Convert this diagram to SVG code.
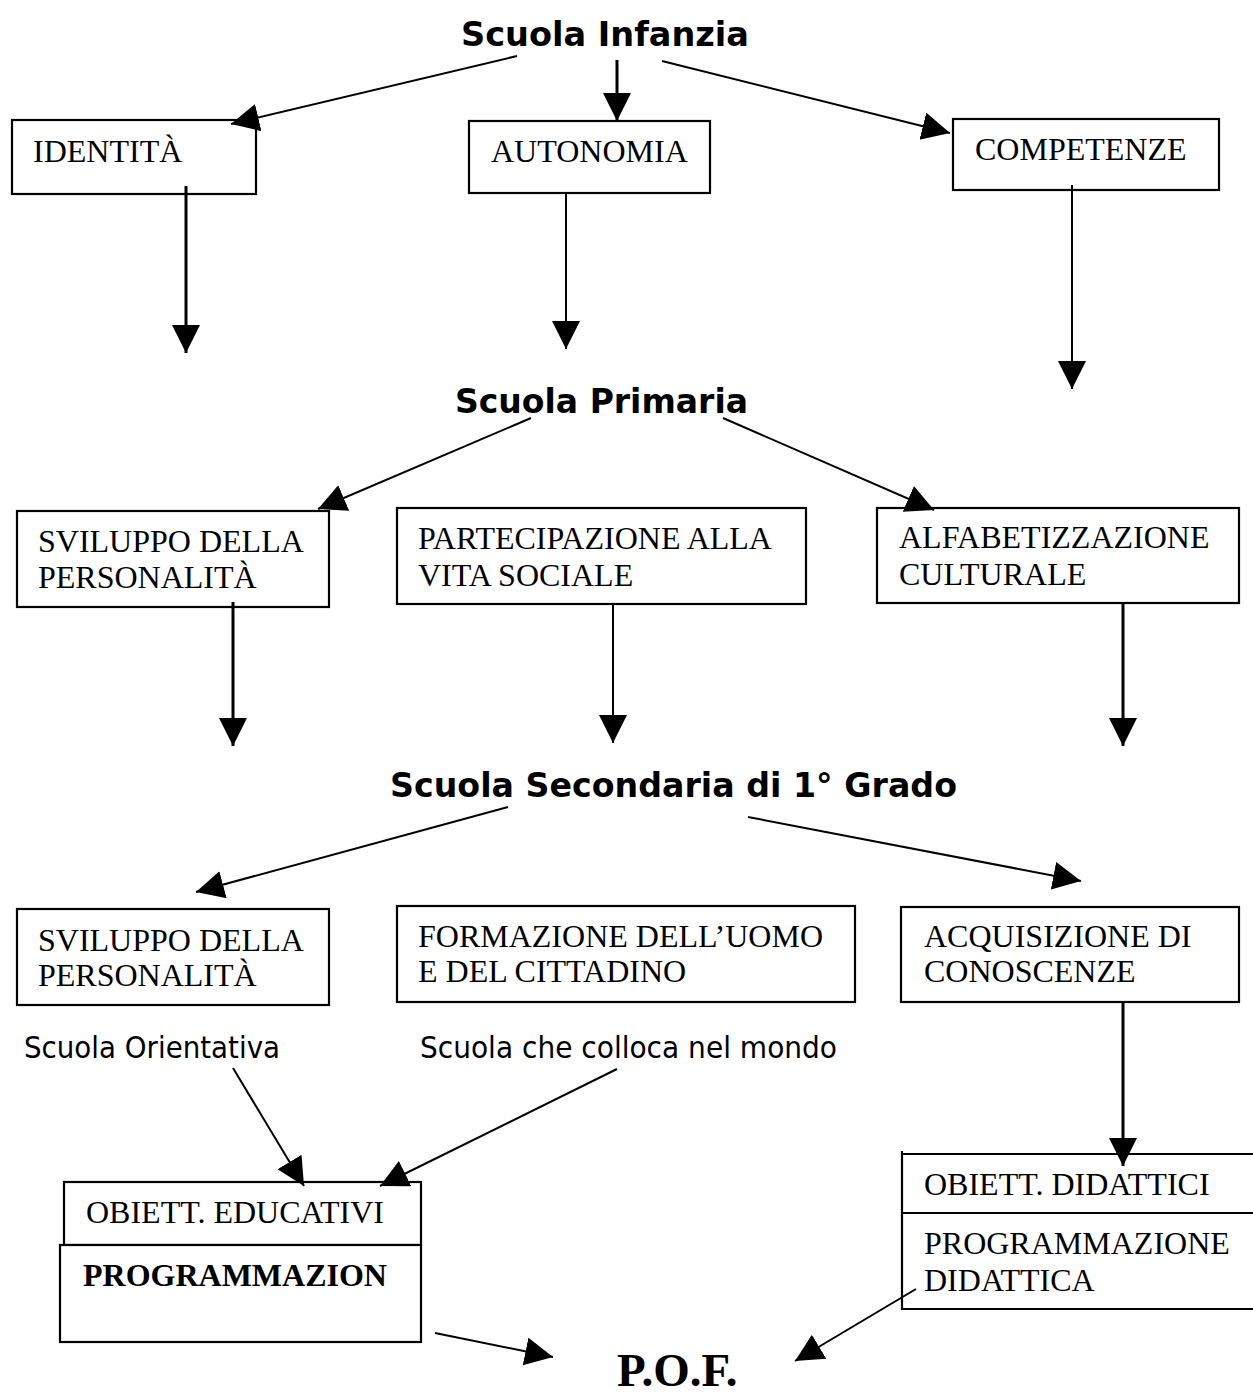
<svg xmlns="http://www.w3.org/2000/svg" width="1253" height="1397" viewBox="0 0 1253 1397">
<style>
.box{fill:#fff;stroke:#000;stroke-width:2.2}
.t{font-family:"Liberation Serif","Times New Roman",serif;font-size:32px;fill:#000}
.tb{font-family:"Liberation Serif","Times New Roman",serif;font-size:32px;font-weight:bold;fill:#000}
.h{font-family:"DejaVu Sans",Verdana,sans-serif;font-size:34px;font-weight:bold;fill:#000}
.s{font-family:"DejaVu Sans",Verdana,sans-serif;font-size:30px;fill:#000}
.c{stroke:#000;stroke-width:2;fill:none;marker-end:url(#ah)}
.ck{stroke:#000;stroke-width:3;fill:none;marker-end:url(#ah)}
</style>
<defs>
<marker id="ah" markerUnits="userSpaceOnUse" markerWidth="30" markerHeight="30" refX="28" refY="14" orient="auto" viewBox="0 0 30 30">
<path d="M0,0 L28,14 L0,28 z" fill="#000"/>
</marker>
</defs>
<rect width="1253" height="1397" fill="#fff"/>

<g id="n-infanzia"><text class="h" x="461" y="46" textLength="288" lengthAdjust="spacingAndGlyphs">Scuola Infanzia</text></g>
<g id="n-identita"><rect class="box" x="12" y="120" width="244" height="74"/><text class="t" x="33" y="162">IDENTITÀ</text></g>
<g id="n-autonomia"><rect class="box" x="469" y="121" width="241" height="72"/><text class="t" x="491" y="162">AUTONOMIA</text></g>
<g id="n-competenze"><rect class="box" x="953" y="119" width="266" height="71"/><text class="t" x="975" y="160">COMPETENZE</text></g>

<g id="n-primaria"><text class="h" x="455" y="413" textLength="293" lengthAdjust="spacingAndGlyphs">Scuola Primaria</text></g>
<g id="n-sviluppo1"><rect class="box" x="17" y="511" width="312" height="96"/><text class="t" x="38" y="552">SVILUPPO DELLA</text><text class="t" x="38" y="588">PERSONALITÀ</text></g>
<g id="n-partecipazione"><rect class="box" x="397" y="508" width="409" height="96"/><text class="t" x="418" y="549">PARTECIPAZIONE ALLA</text><text class="t" x="418" y="586">VITA SOCIALE</text></g>
<g id="n-alfabetizzazione"><rect class="box" x="877" y="508" width="362" height="95"/><text class="t" x="899" y="548">ALFABETIZZAZIONE</text><text class="t" x="899" y="585">CULTURALE</text></g>

<g id="n-secondaria"><text class="h" x="390" y="797" textLength="567" lengthAdjust="spacingAndGlyphs">Scuola Secondaria di 1° Grado</text></g>
<g id="n-sviluppo2"><rect class="box" x="17" y="909" width="312" height="96"/><text class="t" x="38" y="951">SVILUPPO DELLA</text><text class="t" x="38" y="986">PERSONALITÀ</text></g>
<g id="n-formazione"><rect class="box" x="397" y="906" width="458" height="96"/><text class="t" x="418" y="947">FORMAZIONE DELL’UOMO</text><text class="t" x="418" y="982">E DEL CITTADINO</text></g>
<g id="n-acquisizione"><rect class="box" x="901" y="907" width="338" height="95"/><text class="t" x="924" y="947">ACQUISIZIONE DI</text><text class="t" x="924" y="982">CONOSCENZE</text></g>

<g id="n-orientativa"><text class="s" x="24" y="1058" textLength="256" lengthAdjust="spacingAndGlyphs">Scuola Orientativa</text></g>
<g id="n-colloca"><text class="s" x="420" y="1058" textLength="417" lengthAdjust="spacingAndGlyphs">Scuola che colloca nel mondo</text></g>

<g id="n-educativi"><rect class="box" x="64" y="1182" width="357" height="63"/><text class="t" x="86" y="1223">OBIETT. EDUCATIVI</text></g>
<g id="n-programmazion"><rect class="box" x="60" y="1245" width="361" height="97"/><text class="tb" x="83" y="1286">PROGRAMMAZION</text></g>

<g id="n-didattici"><path d="M902,1151 V1309 H1253 M902,1154 H1253 M902,1213 H1253" fill="none" stroke="#000" stroke-width="2.2"/><text class="t" x="924" y="1195">OBIETT. DIDATTICI</text><text class="t" x="924" y="1254">PROGRAMMAZIONE</text><text class="t" x="924" y="1291">DIDATTICA</text></g>

<g id="n-pof"><text class="tb" x="617" y="1386" style="font-size:47px">P.O.F.</text></g>

<g id="connectors">
<line class="c" x1="517" y1="56" x2="231" y2="124"/>
<line class="ck" x1="617" y1="60" x2="617" y2="121"/>
<line class="c" x1="662" y1="61" x2="950" y2="133"/>
<line class="ck" x1="186" y1="186" x2="186" y2="353"/>
<line class="c" x1="566" y1="194" x2="566" y2="349"/>
<line class="c" x1="1072" y1="185" x2="1072" y2="389"/>
<line class="c" x1="531" y1="418" x2="318" y2="509"/>
<line class="c" x1="723" y1="418" x2="934" y2="510"/>
<line class="ck" x1="233" y1="602" x2="233" y2="746"/>
<line class="c" x1="613" y1="604" x2="613" y2="743"/>
<line class="ck" x1="1123" y1="602" x2="1123" y2="746"/>
<line class="c" x1="508" y1="807" x2="196" y2="892"/>
<line class="c" x1="748" y1="817" x2="1081" y2="881"/>
<line class="c" x1="233" y1="1068" x2="304" y2="1186"/>
<line class="c" x1="617" y1="1069" x2="380" y2="1186"/>
<line class="ck" x1="1123" y1="1002" x2="1123" y2="1166"/>
<line class="c" x1="435" y1="1333" x2="553" y2="1357"/>
<line class="c" x1="916" y1="1289" x2="795" y2="1361"/>
</g>
</svg>
